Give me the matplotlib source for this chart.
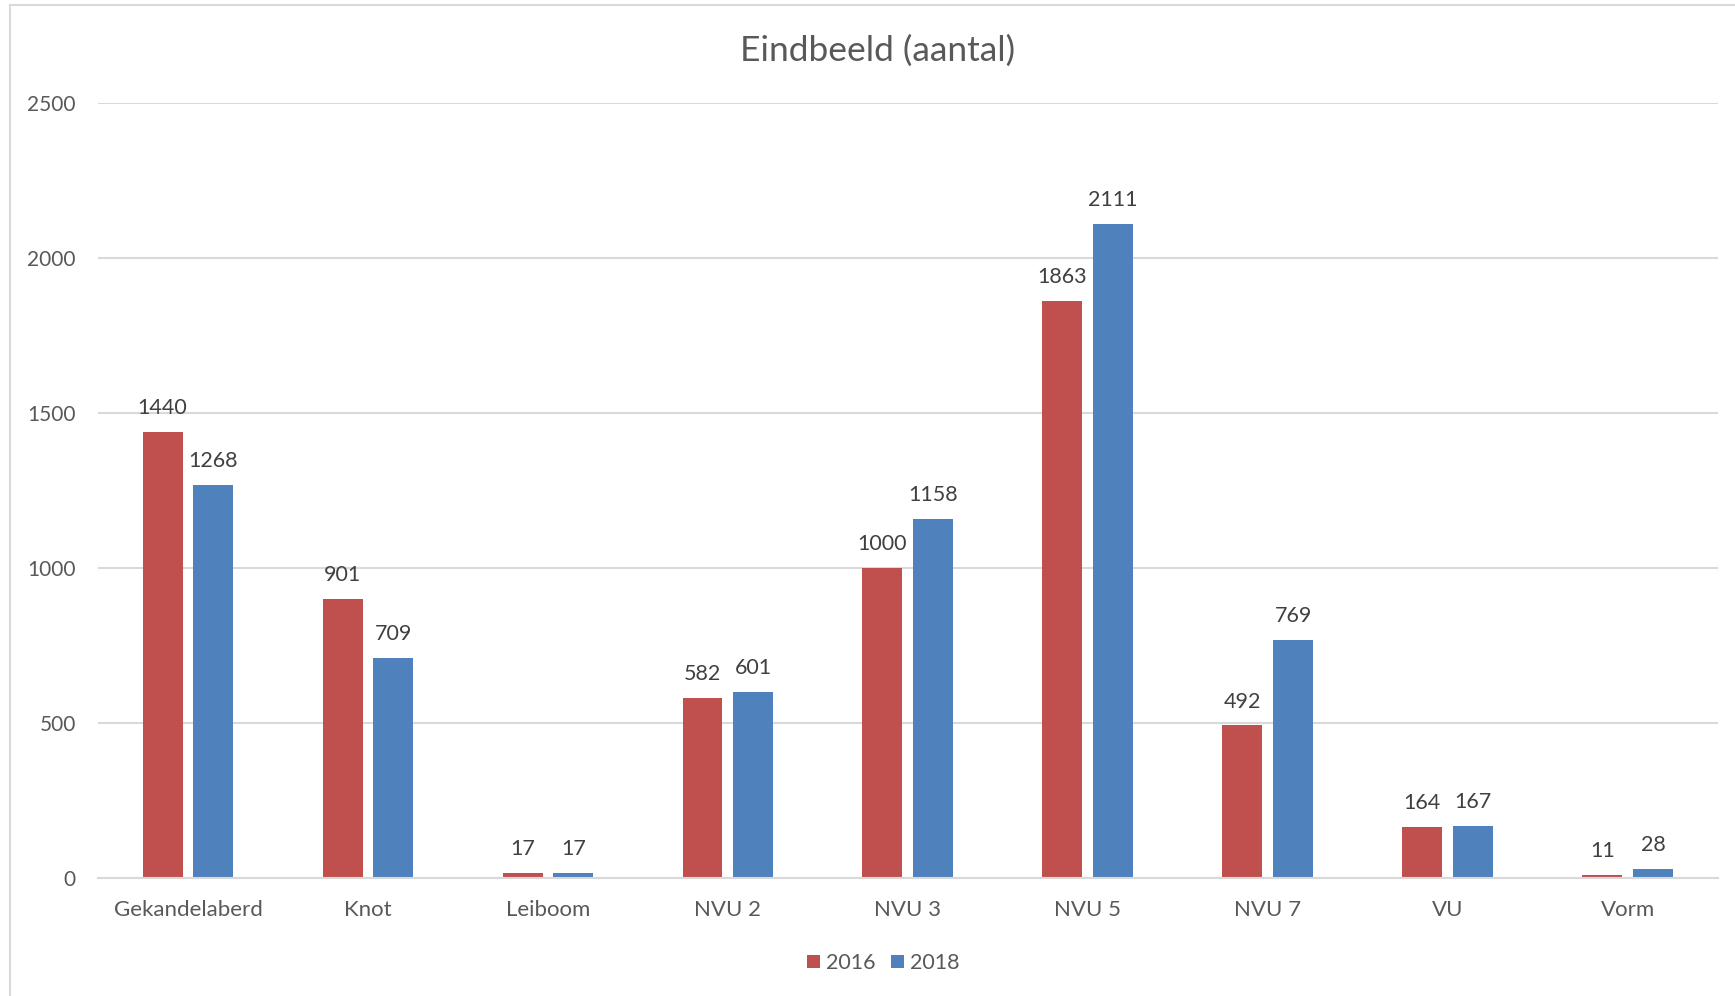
import numpy as np
import matplotlib.pyplot as plt
from matplotlib.lines import Line2D

plt.rcParams['font.family'] = ['Lato', 'DejaVu Sans']

# Gegevens
categories = ['Gekandelaberd', 'Knot', 'Leiboom', 'NVU 2', 'NVU 3', 'NVU 5', 'NVU 7', 'VU', 'Vorm']
values_2016 = [1440, 901, 17, 582, 1000, 1863, 492, 164, 11]
values_2018 = [1268, 709, 17, 601, 1158, 2111, 769, 167, 28]
series_labels = ['2016', '2018']
yticks = [0, 500, 1000, 1500, 2000, 2500]

red = '#C0504D'
blue = '#4F81BD'
grid_col = '#D9D9D9'
text_col = '#595959'
label_col = '#404040'

fig = plt.figure(figsize=(17.35, 9.96), dpi=100)
ax = fig.add_axes([0.0565, 0.1185, 0.9335, 0.778])

x = np.arange(len(categories))
w = 0.222
gap = 0.06
b1 = ax.bar(x - (w + gap) / 2, values_2016, w, color=red, label=series_labels[0], zorder=3)
b2 = ax.bar(x + (w + gap) / 2, values_2018, w, color=blue, label=series_labels[1], zorder=3)

for bars, vals in ((b1, values_2016), (b2, values_2018)):
    for rect, v in zip(bars, vals):
        ax.annotate(str(v), (rect.get_x() + rect.get_width() / 2, v),
                    xytext=(0, 10), textcoords='offset points',
                    ha='center', va='bottom', fontsize=15.5, color=label_col)

ax.set_xlim(-0.5, len(categories) - 0.5)
ax.set_ylim(0, 2500)
ax.set_yticks(yticks)
ax.set_xticks(x)
ax.set_xticklabels(categories)
ax.tick_params(axis='both', length=0, labelsize=15, colors=text_col)
ax.tick_params(axis='x', pad=16, labelsize=16)
ax.tick_params(axis='y', pad=16)
ax.yaxis.grid(True, color=grid_col, linewidth=1.5, zorder=0)
for s in ('top', 'right', 'left'):
    ax.spines[s].set_visible(False)
ax.spines['bottom'].set_color(grid_col)
ax.spines['bottom'].set_linewidth(1.5)
ax.spines['bottom'].set_zorder(4)

fig.text(0.506, 0.949, 'Eindbeeld (aantal)', ha='center', va='center',
         fontsize=25.5, color=text_col)

fig.legend(handles=[b1, b2], labels=series_labels, loc='center',
           bbox_to_anchor=(0.509, 0.033), ncol=2, frameon=False,
           fontsize=15.5, labelcolor=text_col, handlelength=0.6,
           handleheight=0.6, handletextpad=0.3, columnspacing=0.7)

# rand van de grafiek
fig.add_artist(Line2D([10 / 1735, 10 / 1735], [0, 1 - 5 / 996], color=grid_col, lw=1.5))
fig.add_artist(Line2D([10 / 1735, 1], [1 - 5 / 996, 1 - 5 / 996], color=grid_col, lw=1.5))

fig.savefig('out.png', dpi=100)
